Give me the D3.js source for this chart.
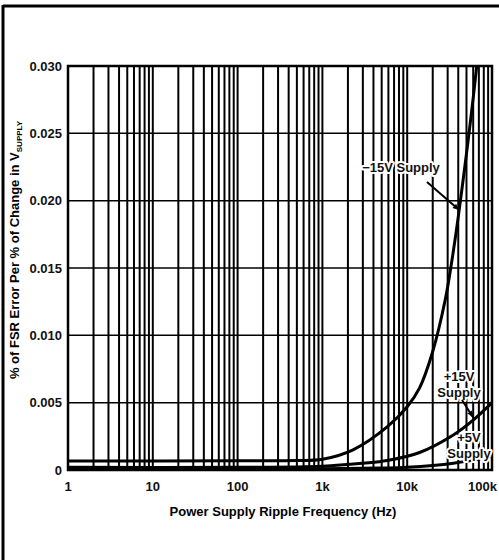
<!DOCTYPE html>
<html>
<meta charset="utf-8">
<title>Power Supply Ripple Rejection</title>
<style>
  body { margin: 0; background: #fff; }
  svg { font-family: "Liberation Sans", Arial, sans-serif; font-weight: bold; }
  .grid line { stroke: #000; }
  .tick-label { font-size: 13px; fill: #111; }
  .note { font-size: 13px; fill: #111; paint-order: stroke; stroke: #fff; stroke-width: 4px; stroke-linejoin: round; }
  .curve { fill: none; stroke: #000; stroke-width: 3px; }
</style>
<body>
<div id="chart"></div>
<script src="https://d3js.org/d3.v7.min.js"></script>
<script>

// axis ticks
const freqTicks = [1, 10, 100, 1000, 10000, 100000];
const freqLabels = ['1', '10', '100', '1k', '10k', '100k'];
const errTicks = [0, 0.005, 0.010, 0.015, 0.020, 0.025, 0.030];
const errLabels = ['0', '0.005', '0.010', '0.015', '0.020', '0.025', '0.030'];

// curves (Hz, % FSR per %)
const neg15Freq = [1, 100, 500, 1000, 2300, 5800, 10000, 14000, 20000, 28000, 33000, 41000, 66000, 80000];
const neg15Err  = [0.00067, 0.00068, 0.0007, 0.0008, 0.0015, 0.0032, 0.0047, 0.0061, 0.0088, 0.0126, 0.0152, 0.0193, 0.030, 0.036];
const pos15Freq = [1, 100, 1000, 3000, 5800, 14000, 35000, 60000, 100000];
const pos15Err  = [0.0002, 0.0002, 0.00028, 0.0005, 0.0007, 0.0013, 0.0026, 0.0037, 0.0050];
const pos5Freq  = [1, 1000, 5000, 10000, 35000, 100000];
const pos5Err   = [0.00008, 0.0001, 0.00014, 0.0002, 0.0005, 0.0010];

const W = 499, H = 560;
const x = d3.scaleLog().domain([1, 100000]).range([68, 492]);
const y = d3.scaleLinear().domain([0, 0.030]).range([470, 66]);

const svg = d3.select('#chart').append('svg')
  .attr('width', W)
  .attr('height', H);

// outer frame (left + top edges of the scanned sheet)
svg.append('line').attr('x1', 3).attr('x2', 3).attr('y1', 5).attr('y2', H)
  .attr('stroke', '#000').attr('stroke-width', 3);
svg.append('line').attr('x1', 3).attr('x2', W).attr('y1', 6).attr('y2', 6)
  .attr('stroke', '#000').attr('stroke-width', 3);

svg.append('clipPath').attr('id', 'plot')
  .append('rect')
  .attr('x', x(1)).attr('y', y(0.030))
  .attr('width', x(100000) - x(1)).attr('height', y(0) - y(0.030));

// vertical log grid 1..9 per decade
const minor = [];
for (let d = 1; d < 100000; d *= 10) {
  for (let k = 1; k < 10; k++) minor.push(d * k);
}
minor.push(100000);

const grid = svg.append('g').attr('class', 'grid');
grid.selectAll('.v').data(minor).enter().append('line')
  .attr('class', 'v')
  .attr('x1', d => x(d)).attr('x2', d => x(d))
  .attr('y1', y(0.030)).attr('y2', y(0))
  .attr('stroke-width', 2);

grid.selectAll('.h').data(errTicks).enter().append('line')
  .attr('class', 'h')
  .attr('x1', x(1)).attr('x2', x(100000))
  .attr('y1', d => y(d)).attr('y2', d => y(d))
  .attr('stroke-width', 1.5);

// plot border
svg.append('rect')
  .attr('x', x(1)).attr('y', y(0.030))
  .attr('width', x(100000) - x(1)).attr('height', y(0) - y(0.030))
  .attr('fill', 'none').attr('stroke', '#000').attr('stroke-width', 2.5);

// tick labels
svg.selectAll('.ylab').data(errTicks).enter().append('text')
  .attr('class', 'tick-label')
  .attr('x', 62)
  .attr('y', d => y(d))
  .attr('dy', '0.35em')
  .attr('text-anchor', 'end')
  .text((d, i) => errLabels[i]);

const last = freqTicks.length - 1;
svg.selectAll('.xlab').data(freqTicks).enter().append('text')
  .attr('class', 'tick-label')
  .attr('x', (d, i) => i === last ? 497 : x(d))
  .attr('y', 491)
  .attr('text-anchor', (d, i) => i === last ? 'end' : 'middle')
  .text((d, i) => freqLabels[i]);

// axis titles
svg.append('text')
  .attr('x', 283).attr('y', 516)
  .attr('text-anchor', 'middle')
  .style('font-size', '13px')
  .text('Power Supply Ripple Frequency (Hz)');

const yt = svg.append('text')
  .attr('transform', 'translate(19,250) rotate(-90)')
  .attr('text-anchor', 'middle')
  .style('font-size', '13px');
yt.append('tspan').text('% of FSR Error Per % of Change in V');
yt.append('tspan').attr('dy', 3).style('font-size', '8px').text('SUPPLY');

// curves
const line = d3.line()
  .x(d => x(d[0]))
  .y(d => y(d[1]))
  .curve(d3.curveCatmullRom.alpha(0.5));

const curves = [
  d3.zip(neg15Freq, neg15Err),
  d3.zip(pos15Freq, pos15Err),
  d3.zip(pos5Freq, pos5Err)
];

svg.append('g').attr('clip-path', 'url(#plot)')
  .selectAll('path').data(curves).enter().append('path')
  .attr('class', 'curve')
  .attr('d', line);

// annotations
function note(lines, xc, y0) {
  const t = svg.append('text').attr('class', 'note').attr('text-anchor', 'middle');
  lines.forEach((s, i) => {
    t.append('tspan').attr('x', xc).attr('y', y0 + i * 16).text(s);
  });
}
note(['\u221215V Supply'], 401, 172);
note(['+15V', 'Supply'], 459, 381);
note(['+5V', 'Supply'], 469, 442);

function pointer(x1, y1, x2, y2) {
  svg.append('line')
    .attr('x1', x1).attr('y1', y1).attr('x2', x2).attr('y2', y2)
    .attr('stroke', '#000').attr('stroke-width', 2);
  const a = Math.atan2(y2 - y1, x2 - x1);
  const p = [
    [x2, y2],
    [x2 - 7 * Math.cos(a - 0.4), y2 - 7 * Math.sin(a - 0.4)],
    [x2 - 7 * Math.cos(a + 0.4), y2 - 7 * Math.sin(a + 0.4)]
  ];
  svg.append('polygon').attr('points', p.join(' ')).attr('fill', '#000');
}
pointer(427, 182, x(41000), y(0.0193));
pointer(462, 400, x(60000), y(0.0039));

</script>
</body>
</html>
